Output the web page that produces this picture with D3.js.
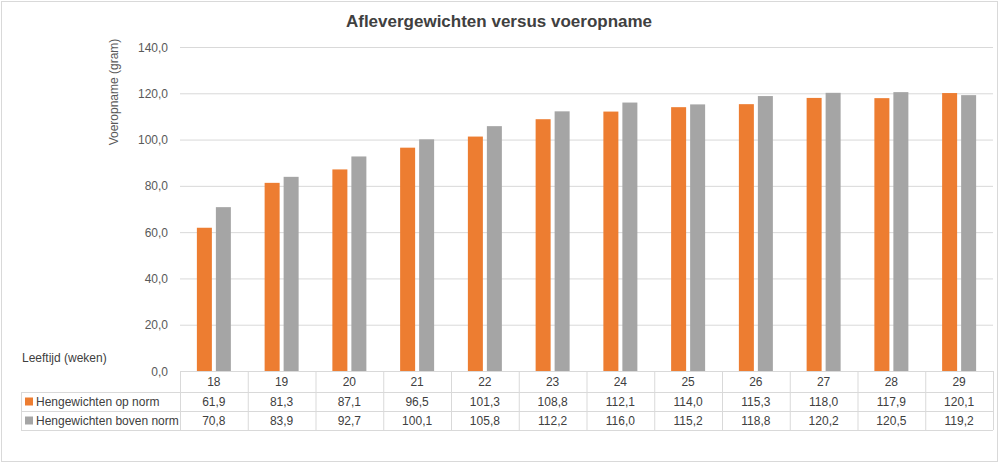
<!DOCTYPE html>
<html><head><meta charset="utf-8">
<script src="https://cdn.jsdelivr.net/npm/d3@7"></script>
<style>body{margin:0;background:#fff;font-family:Calibri,Carlito,"Open Sans",sans-serif}</style>
</head><body><svg id="c" width="999" height="463"></svg>
<script>
const weeks = ["18","19","20","21","22","23","24","25","26","27","28","29"];
const opNorm = [61.9,81.3,87.1,96.5,101.3,108.8,112.1,114.0,115.3,118.0,117.9,120.1];
const bovenNorm = [70.8,83.9,92.7,100.1,105.8,112.2,116.0,115.2,118.8,120.2,120.5,119.2];
const yTicks = [0,20,40,60,80,100,120,140];
const series = [
	{name: "Hengewichten op norm", values: opNorm, color: "#ed7d31"},
	{name: "Hengewichten boven norm", values: bovenNorm, color: "#a5a5a5"}
];

const svg = d3.select("#c");
const fmt = v => d3.format(".1f")(v).replace(".", ",");
const font = "Liberation Sans, Open Sans, sans-serif";

svg.append("rect").attr("x",1.5).attr("y",1.5).attr("width",996).attr("height",460)
	.attr("fill","#fff").attr("stroke","#d9d9d9");

svg.append("text").attr("x",499).attr("y",27).attr("text-anchor","middle")
	.attr("font-family",font).attr("font-size",17).attr("font-weight","bold").attr("fill","#404040")
	.text("Aflevergewichten versus voeropname");

const plotLeft = 180, plotRight = 993, plotTop = 47, plotBottom = 371;
const x = d3.scaleBand().domain(weeks).range([plotLeft, plotRight]);
const y = d3.scaleLinear().domain([0,140]).range([plotBottom, plotTop]);

svg.append("g").selectAll("line").data(yTicks).join("line")
	.attr("x1",plotLeft).attr("x2",plotRight).attr("y1",d=>y(d)+0.5).attr("y2",d=>y(d)+0.5)
	.attr("stroke","#d9d9d9");

svg.append("g").selectAll("text").data(yTicks).join("text")
	.attr("x",168).attr("y",d=>y(d)+4.5).attr("text-anchor","end")
	.attr("font-family",font).attr("font-size",12).attr("fill","#595959").text(fmt);

svg.append("text").attr("transform","translate(118,92) rotate(-90)").attr("text-anchor","middle")
	.attr("font-family",font).attr("font-size",12).attr("fill","#595959").text("Voeropname (gram)");
svg.append("text").attr("x",22).attr("y",362)
	.attr("font-family",font).attr("font-size",12).attr("fill","#404040").text("Leeftijd (weken)");

const barW = 15, gap = 4;
series.forEach((s, i) => {
	svg.append("g").selectAll("rect").data(s.values).join("rect")
		.attr("x",(d,j)=>x(weeks[j]) + x.bandwidth()/2 - barW - gap/2 + i*(barW+gap))
		.attr("y",d=>y(d)).attr("width",barW).attr("height",d=>y(0)-y(d))
		.attr("fill",s.color);
});

// data table
const rowY = [371, 392, 411, 430];
const tbl = svg.append("g").attr("stroke","#d9d9d9").attr("fill","none");
rowY.forEach((ry, i) => {
	tbl.append("line").attr("x1", i===0 ? plotLeft : 21).attr("x2",plotRight)
		.attr("y1",ry+0.5).attr("y2",ry+0.5);
});
tbl.append("line").attr("x1",21.5).attr("x2",21.5).attr("y1",392).attr("y2",430);
weeks.forEach(w => {
	tbl.append("line").attr("x1",x(w)+0.5).attr("x2",x(w)+0.5).attr("y1",371).attr("y2",430);
});
tbl.append("line").attr("x1",plotRight+0.5).attr("x2",plotRight+0.5).attr("y1",371).attr("y2",430);

svg.append("g").selectAll("text").data(weeks).join("text")
	.attr("x",d=>x(d)+x.bandwidth()/2).attr("y",386).attr("text-anchor","middle")
	.attr("font-family",font).attr("font-size",12).attr("fill","#404040").text(d=>d);

series.forEach((s, i) => {
	const cy = (rowY[i+1] + rowY[i+2]) / 2;
	svg.append("rect").attr("x",25).attr("y",cy-4).attr("width",8).attr("height",8).attr("fill",s.color);
	svg.append("text").attr("x",36).attr("y",cy+4.5)
		.attr("font-family",font).attr("font-size",12).attr("fill","#404040").text(s.name);
	svg.append("g").selectAll("text").data(s.values).join("text")
		.attr("x",(d,j)=>x(weeks[j])+x.bandwidth()/2).attr("y",cy+4.5).attr("text-anchor","middle")
		.attr("font-family",font).attr("font-size",12).attr("fill","#404040").text(fmt);
});
</script></body></html>
